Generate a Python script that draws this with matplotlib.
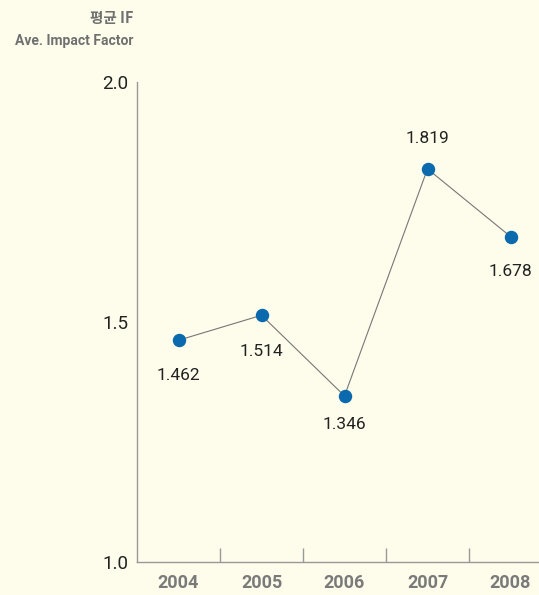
import matplotlib.pyplot as plt

years = ['2004', '2005', '2006', '2007', '2008']
impact = [1.462, 1.514, 1.346, 1.819, 1.678]
y_ticks = [1.0, 1.5, 2.0]

# label offsets in pixels (above > 0, below < 0)
offsets = [-35, -36, -29, 30, -35]

bg = '#fefcea'
font = ['Roboto', 'DejaVu Sans']
kor = ['Noto Sans CJK KR', 'Roboto']

fig = plt.figure(figsize=(5.39, 5.95), dpi=100, facecolor=bg)
ax = fig.add_axes([137 / 539, 33 / 595, 415 / 539, 480 / 595], facecolor=bg)

x = list(range(len(years)))
ax.plot(x, impact, color='#777777', lw=0.8, zorder=2)
ax.scatter(x, impact, s=75, color='#0a6aad', zorder=3)

for i, v in enumerate(impact):
    ax.annotate(f'{v:.3f}', (i, v), xytext=(0, offsets[i]), textcoords='offset pixels',
                ha='center', va='center', fontsize=12.5, color='#222222', family=font)

ax.set_xlim(-0.5, 4.5)
ax.set_ylim(1.0, 2.0)
for s in ['top', 'right']:
    ax.spines[s].set_visible(False)
for s in ['left', 'bottom']:
    ax.spines[s].set_color('#999999')
    ax.spines[s].set_linewidth(1.0)

ax.set_xticks(x)
ax.set_xticklabels(years, fontsize=13, fontweight='bold', color='#7a7a7a', family=font)
ax.set_xticks([0.5, 1.5, 2.5, 3.5], minor=True)
ax.tick_params(axis='x', which='major', length=0, pad=9)
ax.tick_params(axis='x', which='minor', direction='in', length=10, color='#999999', width=1)

ax.set_yticks(y_ticks)
ax.set_yticklabels([f'{t:.1f}' for t in y_ticks], fontsize=13.5, color='#222222', family=font)
ax.tick_params(axis='y', length=0, pad=6)

fig.text(133 / 539, 1 - 18 / 595, '평균 IF', ha='right', va='center', fontsize=10.5,
         fontweight='bold', color='#707070', family=kor)
fig.text(133 / 539, 1 - 41 / 595, 'Ave. Impact Factor', ha='right', va='center', fontsize=10,
         fontweight='bold', color='#707070', family=font)

fig.savefig('out.png', dpi=100, facecolor=bg)
